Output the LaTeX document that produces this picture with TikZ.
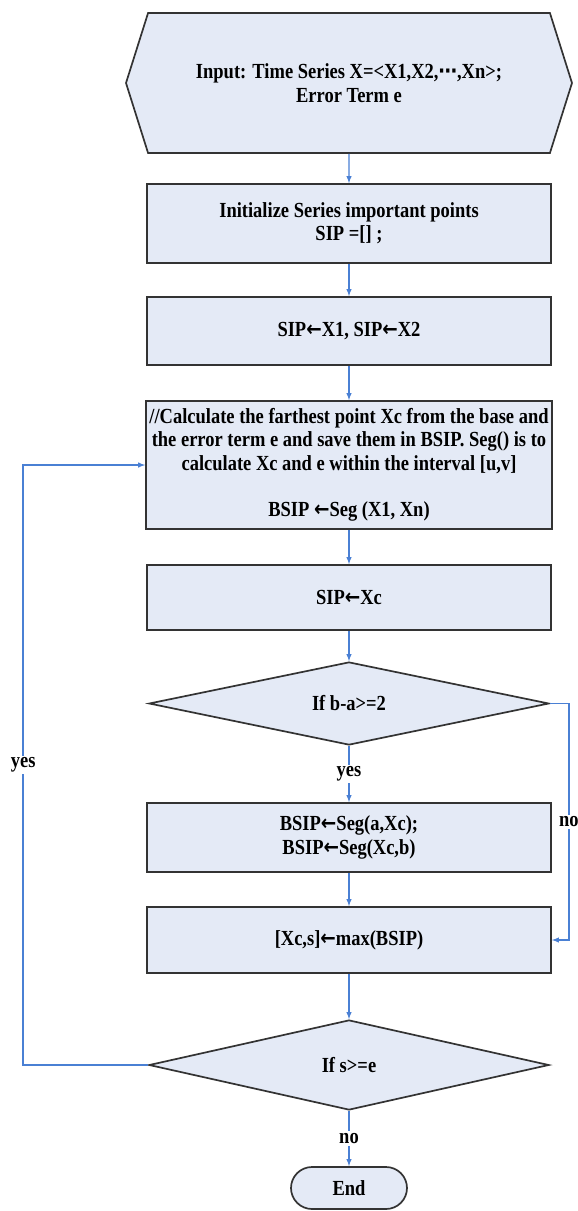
\documentclass[tikz,border=0pt]{standalone}
\usepackage{fontspec}
\setmainfont{Liberation Serif}[FakeStretch=0.86]
\newfontfamily\symfont{DejaVu Sans}[FakeStretch=0.86]
\newcommand{\getsarrow}{{\symfont\bfseries ←}}
\newcommand{\dotsmid}{{\symfont ⋯}}
\usepackage{tikz}
\usetikzlibrary{shapes.geometric,shapes.symbols,arrows}
\definecolor{boxfill}{HTML}{E4EAF6}
\definecolor{edge}{HTML}{333333}
\definecolor{flow}{HTML}{4A80D4}
\tikzstyle{inputbox}=[signal,signal to=west and east,signal pointer angle=145,
minimum width=446pt,minimum height=140pt,text centered,align=center,draw=edge,fill=boxfill,line width=1.7pt]
\tikzstyle{process}=[rectangle,minimum width=404pt,
text centered,align=center,draw=edge,fill=boxfill,line width=1.7pt]
\tikzstyle{decision}=[diamond,aspect=4.8,minimum width=400pt,inner sep=0pt,
text centered,draw=edge,fill=boxfill,line width=1.7pt]
\tikzstyle{terminal}=[rectangle,rounded corners=21pt,minimum width=116pt,
minimum height=42pt,text centered,draw=edge,fill=boxfill,line width=1.7pt]
\tikzstyle{arrow}=[draw=flow,line width=1.4pt,->,>=latex]
\tikzstyle{answer}=[fill=white,inner sep=2pt]

\begin{document}
\begin{tikzpicture}[font=\fontsize{21.5}{23.3}\selectfont\bfseries]
        \useasboundingbox (0,0) rectangle (578pt,-1211pt);
        \node (in) [inputbox] at (349pt,-83pt) {Input: Time Series X=<X1,X2,\dotsmid,Xn>;\\Error Term e};
        \node (p1) [process,minimum height=79pt,below of=in,node distance=140.5pt] {Initialize Series important points\\SIP =[] ;};
        \node (p2) [process,minimum height=68pt,below of=p1,node distance=107.5pt] {SIP\getsarrow X1, SIP\getsarrow X2};
        \node (p3) [process,minimum height=128pt,below of=p2,node distance=134pt] {//Calculate the farthest point Xc from the base and\\the error term e and save them in BSIP. Seg() is to\\calculate Xc and e within the interval [u,v]\\ \\BSIP \getsarrow Seg (X1, Xn)};
        \node (p4) [process,minimum height=65pt,below of=p3,node distance=132.5pt] {SIP\getsarrow Xc};
        \node (d1) [decision,minimum height=83pt,below of=p4,node distance=106pt] {If b-a>=2};
        \node (p5) [process,minimum height=69pt,below of=d1,node distance=134pt] {BSIP\getsarrow Seg(a,Xc);\\BSIP\getsarrow Seg(Xc,b)};
        \node (p6) [process,minimum height=66pt,below of=p5,node distance=102.5pt] {[Xc,s]\getsarrow max(BSIP)};
        \node (d2) [decision,minimum height=90pt,below of=p6,node distance=125pt] {If s>=e};
        \node (stop) [terminal,below of=d2,node distance=123pt] {End};

        \draw [arrow] (in) -- (p1);
        \draw [arrow] (p1) -- (p2);
        \draw [arrow] (p2) -- (p3);
        \draw [arrow] (p3) -- (p4);
        \draw [arrow] (p4) -- (d1);
        \draw [arrow] (d1) -- node[answer] {yes} (p5);
        \draw [arrow] (p5) -- (p6);
        \draw [arrow] (p6) -- (d2);
        \draw [arrow] (d2) -- node[answer] {no} (stop);

        % loop back and skip branch
        \draw [arrow] (d2.west) -- ++(-125pt,0) |- node[answer,pos=0.25] {yes} (p3.west);
        \draw [arrow] (d1.east) -- ++(19pt,0) |- node[answer,pos=0.25] {no} (p6.east);

    \end{tikzpicture}
\end{document}
